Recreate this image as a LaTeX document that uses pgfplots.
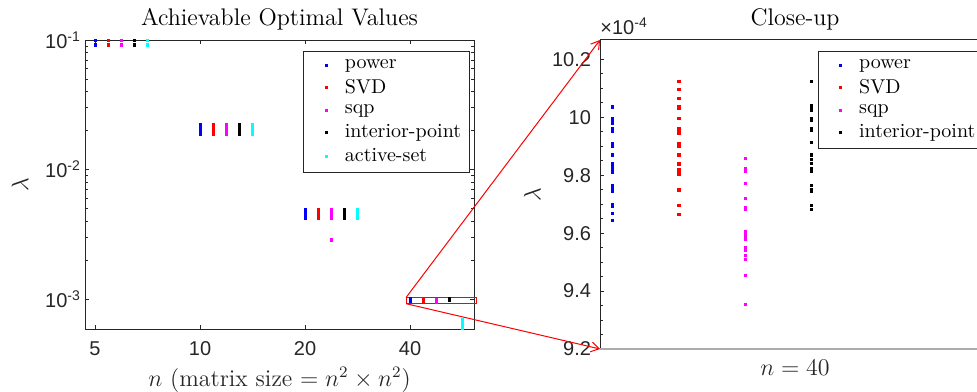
\documentclass[border=0pt]{standalone}
\usepackage{pgfplots}
\pgfplotsset{compat=1.18}
\usepackage{fontspec}
\newfontfamily\arial{Liberation Sans}
\usetikzlibrary{arrows.meta}
\definecolor{axgray}{rgb}{0.15,0.15,0.15}
\definecolor{mcyan}{rgb}{0,1,1}
\definecolor{mmag}{rgb}{1,0,1}
\pgfplotsset{
 every axis title shift=0pt,
 mystyle/.style={
  scale only axis,
  axis line style={axgray, line width=0.5pt},
  every tick/.style={axgray, line width=0.4pt},
  major tick length=2.2pt, minor tick length=1.3pt,
  tick align=inside,
  tick label style={font=\arial\fontsize{10}{12}\selectfont, text=axgray},
  legend style={font=\fontsize{10}{12}\selectfont, draw=axgray, line width=0.5pt, inner xsep=2pt, inner ysep=2pt, cells={anchor=west}},
  legend image code/.code={\path (-6pt,0pt) (10pt,0pt); \draw[##1] plot coordinates {(3pt,0pt)};},
  title style={font=\fontsize{12}{14}\selectfont},
  label style={font=\fontsize{12}{14}\selectfont, text=axgray, inner sep=1pt},
  every axis plot/.append style={only marks, mark=square*, mark size=0.55pt},
 }
}
\begin{document}
\begin{tikzpicture}
% ---------------- left axis ----------------
\begin{axis}[mystyle,
  at={(42.5pt,31pt)}, anchor=south west,
  width=194.5pt, height=144.5pt,
  xmode=log, ymode=log,
  xmin=4.68, xmax=61, ymin=5.865e-4, ymax=0.1,
  xminorticks=false,
  xtick={5,10,20,40}, xticklabels={5,10,20,40},
  ytick={0.001,0.01,0.1},
  yticklabels={10\textsuperscript{-3},10\textsuperscript{-2},10\textsuperscript{-1}},
  xticklabel style={inner sep=1pt, yshift=-5.3pt},
  yticklabel style={xshift=1.5pt},
  clip=false,
  title={Achievable Optimal Values},
  title style={at={(axis description cs:0.5,1)}, anchor=base, yshift=7.2pt},
  xlabel={$n$ (matrix size $= n^2\times n^2$)},
  xlabel style={at={(axis description cs:0.5,0)}, anchor=base, yshift=-28.5pt},
  ylabel={$\lambda$},
  ylabel style={at={(axis description cs:-0.167,0.5)}, anchor=center},
  legend style={at={(axis description cs:0.5614,0.963)}, anchor=north west},
]
\addplot[blue] coordinates {
(5,0.0996)(5,0.0991)(5,0.0918)(5,0.0912)
(10,0.0222)(10,0.0219)(10,0.0215)(10,0.0211)(10,0.0199)(10,0.0195)(10,0.0191)(10,0.0188)
(20,0.00487)(20,0.00478)(20,0.00468)(20,0.00458)(20,0.00448)(20,0.00438)(20,0.00428)(20,0.00421)
(40,10.036e-4)(40,9.996e-4)(40,9.962e-4)(40,9.908e-4)(40,9.870e-4)(40,9.829e-4)(40,9.766e-4)(40,9.700e-4)(40,9.645e-4)};
\addlegendentry{power}
\addplot[red] coordinates {
(5.4525,0.0996)(5.4525,0.0991)(5.4525,0.0918)(5.4525,0.0912)
(10.905,0.0222)(10.905,0.0219)(10.905,0.0215)(10.905,0.0211)(10.905,0.0199)(10.905,0.0195)(10.905,0.0191)(10.905,0.0188)
(21.81,0.00487)(21.81,0.00478)(21.81,0.00468)(21.81,0.00458)(21.81,0.00448)(21.81,0.00438)(21.81,0.00428)(21.81,0.00421)
(43.62,10.125e-4)(43.62,10.065e-4)(43.62,10.031e-4)(43.62,9.962e-4)(43.62,9.910e-4)(43.62,9.870e-4)(43.62,9.818e-4)(43.62,9.749e-4)(43.62,9.665e-4)};
\addlegendentry{SVD}
\addplot[mmag] coordinates {
(5.946,0.0996)(5.946,0.0991)(5.946,0.0918)(5.946,0.0912)
(11.892,0.0222)(11.892,0.0219)(11.892,0.0215)(11.892,0.0211)(11.892,0.0205)(11.892,0.0199)(11.892,0.0195)(11.892,0.0191)(11.892,0.0186)
(23.784,0.00487)(23.784,0.00478)(23.784,0.00468)(23.784,0.00458)(23.784,0.00448)(23.784,0.00438)(23.784,0.00428)(23.784,0.00421)(23.784,0.00286)
(47.568,9.858e-4)(47.568,9.815e-4)(47.568,9.720e-4)(47.568,9.682e-4)(47.568,9.605e-4)(47.568,9.579e-4)(47.568,9.542e-4)(47.568,9.510e-4)(47.568,9.455e-4)(47.568,9.355e-4)};
\addlegendentry{sqp}
\addplot[black] coordinates {
(6.484,0.0996)(6.484,0.0991)(6.484,0.0918)(6.484,0.0912)
(12.968,0.0222)(12.968,0.0219)(12.968,0.0215)(12.968,0.0211)(12.968,0.0199)(12.968,0.0195)(12.968,0.0191)(12.968,0.0188)
(25.937,0.00487)(25.937,0.00478)(25.937,0.00468)(25.937,0.00458)(25.937,0.00448)(25.937,0.00438)(25.937,0.00428)(25.937,0.00421)
(51.874,10.123e-4)(51.874,10.034e-4)(51.874,9.996e-4)(51.874,9.962e-4)(51.874,9.912e-4)(51.874,9.855e-4)(51.874,9.812e-4)(51.874,9.751e-4)(51.874,9.697e-4)};
\addlegendentry{interior-point}
\addplot[mcyan] coordinates {
(7.071,0.0996)(7.071,0.0991)(7.071,0.0918)(7.071,0.0912)
(14.142,0.0222)(14.142,0.0219)(14.142,0.0215)(14.142,0.0211)(14.142,0.0205)(14.142,0.0199)(14.142,0.0195)(14.142,0.0191)(14.142,0.0186)
(28.284,0.00487)(28.284,0.00478)(28.284,0.00468)(28.284,0.00458)(28.284,0.00448)(28.284,0.00438)(28.284,0.00428)(28.284,0.00421)
(56.569,6.9e-4)(56.569,6.75e-4)(56.569,6.6e-4)(56.569,6.45e-4)(56.569,6.3e-4)(56.569,6.15e-4)(56.569,6.0e-4)(56.569,5.9e-4)};
\addlegendentry{active-set}
\draw[red, line width=0.5pt] (axis cs:38.96,9.2e-4) rectangle (axis cs:62,1.0267e-3);
\coordinate (A1) at (axis cs:38.96,1.0267e-3);
\coordinate (A2) at (axis cs:38.96,9.2e-4);
\end{axis}
% ---------------- right axis ----------------
\begin{axis}[mystyle,
  at={(300pt,21pt)}, anchor=south west,
  width=195pt, height=154.5pt,
  xmin=0.808, xmax=6.699, ymin=9.2, ymax=10.2666,
  xtick=\empty,
  ytick={9.2,9.4,9.6,9.8,10,10.2},
  yticklabels={9.2,9.4,9.6,9.8,10,10.2},
  minor y tick num=3,
  yticklabel style={xshift=-1pt},
  clip=false,
  title={Close-up},
  title style={at={(axis description cs:0.5,1)}, anchor=base, yshift=7pt},
  xlabel={$n=40$},
  xlabel style={at={(axis description cs:0.5,0)}, anchor=base, yshift=-13pt},
  ylabel={$\lambda$},
  ylabel style={at={(axis description cs:-0.1736,0.5)}, anchor=center},
  legend style={at={(axis description cs:0.558,0.9654)}, anchor=north west},
]
\addplot[blue] coordinates {
(1,10.036)(1,9.996)(1,9.988)(1,9.979)(1,9.962)(1,9.950)(1,9.908)(1,9.898)(1,9.870)(1,9.839)
(1,9.829)(1,9.818)(1,9.810)(1,9.766)(1,9.755)(1,9.746)(1,9.700)(1,9.691)(1,9.668)(1,9.645)};
\addlegendentry{power}
\addplot[red] coordinates {
(2,10.125)(2,10.096)(2,10.065)(2,10.036)(2,10.031)(2,9.996)(2,9.962)(2,9.954)(2,9.945)(2,9.910)
(2,9.902)(2,9.898)(2,9.870)(2,9.839)(2,9.818)(2,9.810)(2,9.804)(2,9.749)(2,9.697)(2,9.665)};
\addlegendentry{SVD}
\addplot[mmag] coordinates {
(3,9.858)(3,9.824)(3,9.815)(3,9.772)(3,9.720)(3,9.688)(3,9.682)(3,9.605)(3,9.599)
(3,9.588)(3,9.579)(3,9.551)(3,9.542)(3,9.524)(3,9.510)(3,9.455)(3,9.355)};
\addlegendentry{sqp}
\addplot[black] coordinates {
(4,10.123)(4,10.042)(4,10.034)(4,10.025)(4,9.996)(4,9.988)(4,9.962)(4,9.956)(4,9.912)(4,9.870)
(4,9.855)(4,9.841)(4,9.824)(4,9.812)(4,9.766)(4,9.751)(4,9.743)(4,9.697)(4,9.682)};
\addlegendentry{interior-point}
\draw[gray!65, line width=1.2pt] (rel axis cs:0,0) -- (rel axis cs:1,0);
\node[anchor=south west, inner sep=0pt, text=axgray, font=\arial\fontsize{10}{12}\selectfont] at (rel axis cs:0,1) [yshift=2.5pt] {×10\textsuperscript{-4}};
\coordinate (B1) at (rel axis cs:0,1);
\coordinate (B2) at (rel axis cs:0,0);
\end{axis}
\draw[red, line width=0.5pt, -{Straight Barb[length=4pt,width=5pt]}] (A1) -- (B1);
\draw[red, line width=0.5pt, -{Straight Barb[length=4pt,width=5pt]}] (A2) -- (B2);
\pgfresetboundingbox
\path (0pt,0pt) rectangle (488.5pt,195.5pt);
\end{tikzpicture}
\end{document}
